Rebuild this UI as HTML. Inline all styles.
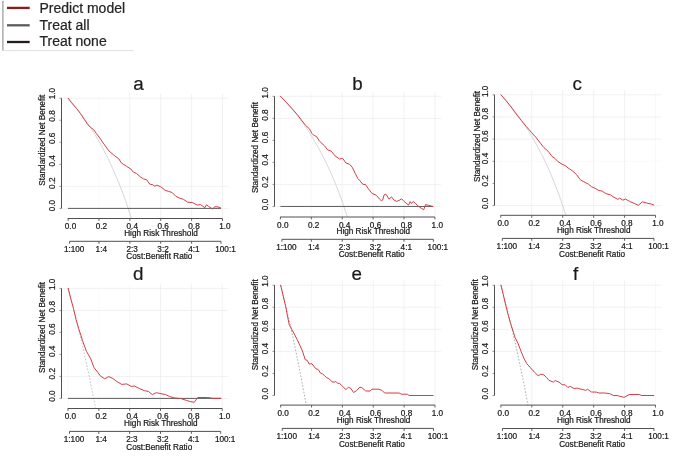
<!DOCTYPE html>
<html><head><meta charset="utf-8"><title>Decision curves</title>
<style>
html,body{margin:0;padding:0;background:#fff;}
body{width:685px;height:468px;overflow:hidden;}
svg{display:block;font-family:"Liberation Sans",sans-serif;filter:blur(0.3px);}
text{stroke:#222;stroke-width:0.22px;}
</style></head><body>
<svg width="685" height="468" viewBox="0 0 685 468">
<rect width="685" height="468" fill="#ffffff"/>
<g opacity="0.999">
<g id="legend">
<line x1="2.9" y1="0.8" x2="2.9" y2="50.7" stroke="#989898" stroke-width="1.2"/>
<line x1="2.9" y1="50.6" x2="133.5" y2="50.6" stroke="#dddddd" stroke-width="0.9"/>
<line x1="7" y1="7.9" x2="29.7" y2="7.9" stroke="#8e1a1d" stroke-width="2.3"/>
<line x1="7" y1="25.3" x2="29.7" y2="25.3" stroke="#5c5c5c" stroke-width="2.3"/>
<line x1="7" y1="42" x2="29.7" y2="42" stroke="#261a1a" stroke-width="2.3"/>
<text x="39.5" y="13.2" font-size="14" fill="#262626">Predict model</text>
<text x="39.5" y="29.9" font-size="14" fill="#262626">Treat all</text>
<text x="39.5" y="46.4" font-size="14" fill="#262626">Treat none</text>
</g>
<g id="pa">
<line x1="68.1" y1="93.57" x2="68.1" y2="218.5" stroke="#ebebeb" stroke-width="0.7" opacity="0.3"/>
<line x1="61.5" y1="208.4" x2="228.68" y2="208.4" stroke="#ebebeb" stroke-width="0.7" opacity="1"/>
<line x1="98.98" y1="93.57" x2="98.98" y2="218.5" stroke="#ebebeb" stroke-width="0.7" opacity="0.3"/>
<line x1="61.5" y1="186.36" x2="228.68" y2="186.36" stroke="#ebebeb" stroke-width="0.7" opacity="1"/>
<line x1="129.86" y1="93.57" x2="129.86" y2="218.5" stroke="#ebebeb" stroke-width="0.7" opacity="1"/>
<line x1="160.74" y1="93.57" x2="160.74" y2="218.5" stroke="#ebebeb" stroke-width="0.7" opacity="1"/>
<line x1="191.62" y1="93.57" x2="191.62" y2="218.5" stroke="#ebebeb" stroke-width="0.7" opacity="1"/>
<line x1="222.5" y1="93.57" x2="222.5" y2="218.5" stroke="#ebebeb" stroke-width="0.7" opacity="1"/>
<line x1="61.5" y1="98.2" x2="228.68" y2="98.2" stroke="#ebebeb" stroke-width="0.7" opacity="1"/>
<path d="M68.1 98.2 L68.49 98.64 L68.88 99.07 L69.26 99.51 L69.65 99.96 L70.04 100.4 L70.43 100.85 L70.81 101.3 L71.2 101.75 L71.59 102.2 L71.98 102.66 L72.36 103.12 L72.75 103.58 L73.14 104.04 L73.53 104.51 L73.91 104.97 L74.3 105.44 L74.69 105.92 L75.08 106.39 L75.46 106.87 L75.85 107.35 L76.24 107.83 L76.63 108.32 L77.02 108.81 L77.4 109.3 L77.79 109.79 L78.18 110.29 L78.57 110.79 L78.95 111.29 L79.34 111.79 L79.73 112.3 L80.12 112.81 L80.5 113.32 L80.89 113.83 L81.28 114.35 L81.67 114.87 L82.05 115.4 L82.44 115.92 L82.83 116.45 L83.22 116.99 L83.6 117.52 L83.99 118.06 L84.38 118.6 L84.77 119.15 L85.16 119.69 L85.54 120.24 L85.93 120.8 L86.32 121.36 L86.71 121.92 L87.09 122.48 L87.48 123.05 L87.87 123.62 L88.26 124.19 L88.64 124.77 L89.03 125.34 L89.42 125.93 L89.81 126.51 L90.19 127.1 L90.58 127.7 L90.97 128.3 L91.36 128.9 L91.74 129.5 L92.13 130.11 L92.52 130.72 L92.91 131.33 L93.29 131.95 L93.68 132.58 L94.07 133.2 L94.46 133.83 L94.85 134.46 L95.23 135.1 L95.62 135.74 L96.01 136.39 L96.4 137.04 L96.78 137.69 L97.17 138.35 L97.56 139.01 L97.95 139.68 L98.33 140.35 L98.72 141.02 L99.11 141.7 L99.5 142.38 L99.88 143.07 L100.27 143.76 L100.66 144.46 L101.05 145.16 L101.43 145.86 L101.82 146.57 L102.21 147.28 L102.6 148 L102.99 148.72 L103.37 149.45 L103.76 150.18 L104.15 150.92 L104.54 151.66 L104.92 152.41 L105.31 153.16 L105.7 153.92 L106.09 154.68 L106.47 155.45 L106.86 156.22 L107.25 157 L107.64 157.78 L108.02 158.57 L108.41 159.36 L108.8 160.16 L109.19 160.96 L109.57 161.77 L109.96 162.59 L110.35 163.41 L110.74 164.23 L111.13 165.07 L111.51 165.9 L111.9 166.75 L112.29 167.6 L112.68 168.45 L113.06 169.32 L113.45 170.18 L113.84 171.06 L114.23 171.94 L114.61 172.83 L115 173.72 L115.39 174.62 L115.78 175.52 L116.16 176.44 L116.55 177.36 L116.94 178.28 L117.33 179.22 L117.71 180.16 L118.1 181.1 L118.49 182.06 L118.88 183.02 L119.27 183.99 L119.65 184.96 L120.04 185.95 L120.43 186.94 L120.82 187.93 L121.2 188.94 L121.59 189.95 L121.98 190.97 L122.37 192 L122.75 193.04 L123.14 194.09 L123.53 195.14 L123.92 196.2 L124.3 197.27 L124.69 198.35 L125.08 199.44 L125.47 200.53 L125.85 201.64 L126.24 202.75 L126.63 203.87 L127.02 205.01 L127.41 206.15 L127.79 207.3 L128.18 208.46 L128.57 209.63 L128.96 210.8 L129.34 211.99 L129.73 213.19 L130.12 214.4 L130.51 215.62 L130.89 216.85 L131.28 218.09 L131.41 218.5" fill="none" stroke="#c2c2c2" stroke-width="0.7"/>
<line x1="68.1" y1="208.4" x2="220.96" y2="208.4" stroke="#4a4a4a" stroke-width="0.9"/>
<path d="M68.16 98.2 L71.57 102.8 L76.6 108.5 L80.4 113.5 L84.2 119.2 L88 124.9 L91.1 127.8 L93.6 129.6 L96.2 133.3 L99.9 138.1 L103.8 143.9 L108.8 150.8 L113.9 155.2 L118.9 159 L121.4 163 L126.5 166.3 L130.9 169.1 L133.4 172.2 L136.6 173.5 L140.4 176.9 L143.5 178.9 L146.7 179.8 L149.8 184.2 L152.5 184.6 L154.8 186.2 L156.9 185.2 L160.7 186.7 L165.1 190.3 L168.3 191.3 L172.1 192.5 L175.9 196.3 L179.6 198.2 L183.4 199.3 L187.8 202.2 L192.2 202.5 L197.3 205.1 L200.4 204.5 L204.9 207.7 L206.5 204.8 L208.6 206.4 L212.4 208.9 L214.9 206.7 L218.1 206.9 L220.6 207.9" fill="none" stroke="#d43c44" stroke-width="1.0" stroke-linejoin="round" stroke-linecap="round"/>
<line x1="61.5" y1="208.4" x2="61.5" y2="98.2" stroke="#505050" stroke-width="1"/>
<line x1="59.5" y1="208.4" x2="61.5" y2="208.4" stroke="#505050" stroke-width="0.6"/>
<text transform="translate(55.45 205.6) rotate(-90)" text-anchor="middle" font-size="8.2" fill="#141414">0.0</text>
<line x1="59.5" y1="186.36" x2="61.5" y2="186.36" stroke="#505050" stroke-width="0.6"/>
<text transform="translate(55.45 183.2) rotate(-90)" text-anchor="middle" font-size="8.2" fill="#141414">0.2</text>
<line x1="59.5" y1="164.32" x2="61.5" y2="164.32" stroke="#505050" stroke-width="0.6"/>
<text transform="translate(55.45 160.8) rotate(-90)" text-anchor="middle" font-size="8.2" fill="#141414">0.4</text>
<line x1="59.5" y1="142.28" x2="61.5" y2="142.28" stroke="#505050" stroke-width="0.6"/>
<text transform="translate(55.45 138.4) rotate(-90)" text-anchor="middle" font-size="8.2" fill="#141414">0.6</text>
<line x1="59.5" y1="120.24" x2="61.5" y2="120.24" stroke="#505050" stroke-width="0.6"/>
<text transform="translate(55.45 116) rotate(-90)" text-anchor="middle" font-size="8.2" fill="#141414">0.8</text>
<line x1="59.5" y1="98.2" x2="61.5" y2="98.2" stroke="#505050" stroke-width="0.6"/>
<text transform="translate(55.45 93.6) rotate(-90)" text-anchor="middle" font-size="8.2" fill="#141414">1.0</text>
<text transform="translate(44.9 140.25) rotate(-90)" text-anchor="middle" font-size="8.2" fill="#141414">Standardized Net Benefit</text>
<line x1="67.8" y1="218.5" x2="222.5" y2="218.5" stroke="#505050" stroke-width="1"/>
<line x1="68.1" y1="218.5" x2="68.1" y2="220.9" stroke="#505050" stroke-width="0.9"/>
<text x="70.5" y="229.25" text-anchor="middle" font-size="8.2" fill="#141414">0.0</text>
<line x1="98.98" y1="218.5" x2="98.98" y2="220.9" stroke="#505050" stroke-width="0.9"/>
<text x="101.38" y="229.25" text-anchor="middle" font-size="8.2" fill="#141414">0.2</text>
<line x1="129.86" y1="218.5" x2="129.86" y2="220.9" stroke="#505050" stroke-width="0.9"/>
<text x="132.26" y="229.25" text-anchor="middle" font-size="8.2" fill="#141414">0.4</text>
<line x1="160.74" y1="218.5" x2="160.74" y2="220.9" stroke="#505050" stroke-width="0.9"/>
<text x="163.14" y="229.25" text-anchor="middle" font-size="8.2" fill="#141414">0.6</text>
<line x1="191.62" y1="218.5" x2="191.62" y2="220.9" stroke="#505050" stroke-width="0.9"/>
<text x="194.02" y="229.25" text-anchor="middle" font-size="8.2" fill="#141414">0.8</text>
<line x1="222.5" y1="218.5" x2="222.5" y2="220.9" stroke="#505050" stroke-width="0.9"/>
<text x="224.9" y="229.25" text-anchor="middle" font-size="8.2" fill="#141414">1.0</text>
<text x="124.2" y="235.95" font-size="8.2" fill="#141414">High Risk Threshold</text>
<line x1="69.63" y1="241.3" x2="220.97" y2="241.3" stroke="#505050" stroke-width="1"/>
<line x1="69.63" y1="241.3" x2="69.63" y2="243.7" stroke="#505050" stroke-width="0.95"/>
<text x="74.13" y="251.65" text-anchor="middle" font-size="8.2" fill="#141414">1:100</text>
<line x1="98.98" y1="241.3" x2="98.98" y2="243.7" stroke="#505050" stroke-width="0.95"/>
<text x="101.28" y="251.65" text-anchor="middle" font-size="8.2" fill="#141414">1:4</text>
<line x1="129.86" y1="241.3" x2="129.86" y2="243.7" stroke="#505050" stroke-width="0.95"/>
<text x="132.16" y="251.65" text-anchor="middle" font-size="8.2" fill="#141414">2:3</text>
<line x1="160.74" y1="241.3" x2="160.74" y2="243.7" stroke="#505050" stroke-width="0.95"/>
<text x="163.04" y="251.65" text-anchor="middle" font-size="8.2" fill="#141414">3:2</text>
<line x1="191.62" y1="241.3" x2="191.62" y2="243.7" stroke="#505050" stroke-width="0.95"/>
<text x="193.92" y="251.65" text-anchor="middle" font-size="8.2" fill="#141414">4:1</text>
<line x1="220.97" y1="241.3" x2="220.97" y2="243.7" stroke="#505050" stroke-width="0.95"/>
<text x="225.47" y="251.65" text-anchor="middle" font-size="8.2" fill="#141414">100:1</text>
<text x="126.35" y="259.45" font-size="8.2" fill="#141414">Cost:Benefit Ratio</text>
<text x="138.5" y="89.8" text-anchor="middle" font-size="18.8" fill="#1a1a1a" stroke="none">a</text>
</g>
<g id="pb">
<line x1="280.4" y1="91.67" x2="280.4" y2="217" stroke="#ebebeb" stroke-width="0.7" opacity="0.3"/>
<line x1="274.5" y1="206.45" x2="441.08" y2="206.45" stroke="#ebebeb" stroke-width="0.7" opacity="1"/>
<line x1="311.3" y1="91.67" x2="311.3" y2="217" stroke="#ebebeb" stroke-width="0.7" opacity="0.5"/>
<line x1="274.5" y1="184.42" x2="441.08" y2="184.42" stroke="#ebebeb" stroke-width="0.7" opacity="1"/>
<line x1="342.2" y1="91.67" x2="342.2" y2="217" stroke="#ebebeb" stroke-width="0.7" opacity="1"/>
<line x1="373.1" y1="91.67" x2="373.1" y2="217" stroke="#ebebeb" stroke-width="0.7" opacity="1"/>
<line x1="404" y1="91.67" x2="404" y2="217" stroke="#ebebeb" stroke-width="0.7" opacity="1"/>
<line x1="274.5" y1="118.33" x2="441.08" y2="118.33" stroke="#ebebeb" stroke-width="0.7" opacity="1"/>
<line x1="434.9" y1="91.67" x2="434.9" y2="217" stroke="#ebebeb" stroke-width="0.7" opacity="1"/>
<line x1="274.5" y1="96.3" x2="441.08" y2="96.3" stroke="#ebebeb" stroke-width="0.7" opacity="1"/>
<path d="M280.4 96.3 L280.79 96.7 L281.18 97.1 L281.56 97.5 L281.95 97.9 L282.34 98.31 L282.73 98.71 L283.12 99.12 L283.5 99.54 L283.89 99.95 L284.28 100.36 L284.67 100.78 L285.05 101.2 L285.44 101.63 L285.83 102.05 L286.22 102.48 L286.61 102.91 L286.99 103.34 L287.38 103.77 L287.77 104.21 L288.16 104.64 L288.55 105.09 L288.93 105.53 L289.32 105.97 L289.71 106.42 L290.1 106.87 L290.48 107.32 L290.87 107.78 L291.26 108.24 L291.65 108.69 L292.04 109.16 L292.42 109.62 L292.81 110.09 L293.2 110.56 L293.59 111.03 L293.98 111.51 L294.36 111.98 L294.75 112.46 L295.14 112.95 L295.53 113.43 L295.91 113.92 L296.3 114.41 L296.69 114.91 L297.08 115.4 L297.47 115.9 L297.85 116.4 L298.24 116.91 L298.63 117.42 L299.02 117.93 L299.41 118.44 L299.79 118.96 L300.18 119.48 L300.57 120 L300.96 120.53 L301.34 121.06 L301.73 121.59 L302.12 122.12 L302.51 122.66 L302.9 123.2 L303.28 123.75 L303.67 124.29 L304.06 124.84 L304.45 125.4 L304.84 125.96 L305.22 126.52 L305.61 127.08 L306 127.65 L306.39 128.22 L306.77 128.79 L307.16 129.37 L307.55 129.95 L307.94 130.54 L308.33 131.13 L308.71 131.72 L309.1 132.32 L309.49 132.92 L309.88 133.52 L310.27 134.13 L310.65 134.74 L311.04 135.35 L311.43 135.97 L311.82 136.59 L312.21 137.22 L312.59 137.85 L312.98 138.48 L313.37 139.12 L313.76 139.76 L314.14 140.41 L314.53 141.06 L314.92 141.72 L315.31 142.38 L315.7 143.04 L316.08 143.71 L316.47 144.38 L316.86 145.06 L317.25 145.74 L317.64 146.42 L318.02 147.11 L318.41 147.81 L318.8 148.51 L319.19 149.21 L319.57 149.92 L319.96 150.63 L320.35 151.35 L320.74 152.08 L321.13 152.8 L321.51 153.54 L321.9 154.28 L322.29 155.02 L322.68 155.77 L323.07 156.52 L323.45 157.28 L323.84 158.05 L324.23 158.81 L324.62 159.59 L325 160.37 L325.39 161.16 L325.78 161.95 L326.17 162.75 L326.56 163.55 L326.94 164.36 L327.33 165.17 L327.72 165.99 L328.11 166.82 L328.5 167.65 L328.88 168.49 L329.27 169.33 L329.66 170.19 L330.05 171.04 L330.43 171.91 L330.82 172.78 L331.21 173.65 L331.6 174.54 L331.99 175.43 L332.37 176.32 L332.76 177.23 L333.15 178.14 L333.54 179.05 L333.93 179.98 L334.31 180.91 L334.7 181.85 L335.09 182.79 L335.48 183.75 L335.86 184.71 L336.25 185.68 L336.64 186.65 L337.03 187.63 L337.42 188.63 L337.8 189.63 L338.19 190.63 L338.58 191.65 L338.97 192.67 L339.36 193.7 L339.74 194.74 L340.13 195.79 L340.52 196.85 L340.91 197.92 L341.29 198.99 L341.68 200.08 L342.07 201.17 L342.46 202.27 L342.85 203.38 L343.23 204.51 L343.62 205.64 L344.01 206.78 L344.4 207.93 L344.79 209.09 L345.17 210.26 L345.56 211.44 L345.95 212.63 L346.34 213.83 L346.73 215.04 L347.11 216.26 L347.35 217" fill="none" stroke="#c2c2c2" stroke-width="0.7"/>
<line x1="280.4" y1="206.45" x2="433.36" y2="206.45" stroke="#4a4a4a" stroke-width="0.9"/>
<path d="M280.4 96.2 L286.1 102.1 L292.4 109 L297.4 114.7 L301.2 119.7 L305.6 125.4 L309.4 128.8 L311.9 133.4 L313.8 135.3 L316.4 136.4 L319.5 141.2 L324.4 145.7 L327.6 149.9 L331.3 151.2 L335.1 155.9 L339.5 159 L342.7 158.4 L345.9 163 L349.6 164.3 L352.2 167.2 L355.3 173.5 L357.8 178.5 L360.2 181 L362.7 184.2 L365.5 184.6 L368.7 189.2 L372 193.4 L376.4 195.3 L379.5 199.1 L381.4 200.7 L382.7 200.1 L384 195.1 L385.6 194 L387.1 195.9 L389 199.1 L391.5 196.9 L394 200.1 L396.6 201.4 L399.1 200.4 L401.6 198.8 L404.1 201.4 L408.5 205.1 L410.2 201.6 L411.4 203.5 L413.2 201.4 L415.5 203.5 L418.6 206.4 L423.7 209.8 L425.6 204.5 L428.7 205.4 L432.5 206.4" fill="none" stroke="#d43c44" stroke-width="1.0" stroke-linejoin="round" stroke-linecap="round"/>
<line x1="274.5" y1="206.45" x2="274.5" y2="96.3" stroke="#505050" stroke-width="1"/>
<line x1="272.5" y1="206.45" x2="274.5" y2="206.45" stroke="#505050" stroke-width="0.6"/>
<text transform="translate(268.45 204.5) rotate(-90)" text-anchor="middle" font-size="8.2" fill="#141414">0.0</text>
<line x1="272.5" y1="184.42" x2="274.5" y2="184.42" stroke="#505050" stroke-width="0.6"/>
<text transform="translate(268.45 182.16) rotate(-90)" text-anchor="middle" font-size="8.2" fill="#141414">0.2</text>
<line x1="272.5" y1="162.39" x2="274.5" y2="162.39" stroke="#505050" stroke-width="0.6"/>
<text transform="translate(268.45 159.82) rotate(-90)" text-anchor="middle" font-size="8.2" fill="#141414">0.4</text>
<line x1="272.5" y1="140.36" x2="274.5" y2="140.36" stroke="#505050" stroke-width="0.6"/>
<text transform="translate(268.45 137.48) rotate(-90)" text-anchor="middle" font-size="8.2" fill="#141414">0.6</text>
<line x1="272.5" y1="118.33" x2="274.5" y2="118.33" stroke="#505050" stroke-width="0.6"/>
<text transform="translate(268.45 115.14) rotate(-90)" text-anchor="middle" font-size="8.2" fill="#141414">0.8</text>
<line x1="272.5" y1="96.3" x2="274.5" y2="96.3" stroke="#505050" stroke-width="0.6"/>
<text transform="translate(268.45 92.8) rotate(-90)" text-anchor="middle" font-size="8.2" fill="#141414">1.0</text>
<text transform="translate(257.9 147.6) rotate(-90)" text-anchor="middle" font-size="8.2" fill="#141414">Standardized Net Benefit</text>
<line x1="280.1" y1="217" x2="434.9" y2="217" stroke="#505050" stroke-width="1"/>
<line x1="280.4" y1="217" x2="280.4" y2="219.4" stroke="#505050" stroke-width="0.9"/>
<text x="282.8" y="227.75" text-anchor="middle" font-size="8.2" fill="#141414">0.0</text>
<line x1="311.3" y1="217" x2="311.3" y2="219.4" stroke="#505050" stroke-width="0.9"/>
<text x="313.7" y="227.75" text-anchor="middle" font-size="8.2" fill="#141414">0.2</text>
<line x1="342.2" y1="217" x2="342.2" y2="219.4" stroke="#505050" stroke-width="0.9"/>
<text x="344.6" y="227.75" text-anchor="middle" font-size="8.2" fill="#141414">0.4</text>
<line x1="373.1" y1="217" x2="373.1" y2="219.4" stroke="#505050" stroke-width="0.9"/>
<text x="375.5" y="227.75" text-anchor="middle" font-size="8.2" fill="#141414">0.6</text>
<line x1="404" y1="217" x2="404" y2="219.4" stroke="#505050" stroke-width="0.9"/>
<text x="406.4" y="227.75" text-anchor="middle" font-size="8.2" fill="#141414">0.8</text>
<line x1="434.9" y1="217" x2="434.9" y2="219.4" stroke="#505050" stroke-width="0.9"/>
<text x="437.3" y="227.75" text-anchor="middle" font-size="8.2" fill="#141414">1.0</text>
<text x="336.5" y="234.45" font-size="8.2" fill="#141414">High Risk Threshold</text>
<line x1="281.93" y1="239.3" x2="433.37" y2="239.3" stroke="#505050" stroke-width="1"/>
<line x1="281.93" y1="239.3" x2="281.93" y2="241.7" stroke="#505050" stroke-width="0.95"/>
<text x="286.43" y="249.65" text-anchor="middle" font-size="8.2" fill="#141414">1:100</text>
<line x1="311.3" y1="239.3" x2="311.3" y2="241.7" stroke="#505050" stroke-width="0.95"/>
<text x="313.6" y="249.65" text-anchor="middle" font-size="8.2" fill="#141414">1:4</text>
<line x1="342.2" y1="239.3" x2="342.2" y2="241.7" stroke="#505050" stroke-width="0.95"/>
<text x="344.5" y="249.65" text-anchor="middle" font-size="8.2" fill="#141414">2:3</text>
<line x1="373.1" y1="239.3" x2="373.1" y2="241.7" stroke="#505050" stroke-width="0.95"/>
<text x="375.4" y="249.65" text-anchor="middle" font-size="8.2" fill="#141414">3:2</text>
<line x1="404" y1="239.3" x2="404" y2="241.7" stroke="#505050" stroke-width="0.95"/>
<text x="406.3" y="249.65" text-anchor="middle" font-size="8.2" fill="#141414">4:1</text>
<line x1="433.37" y1="239.3" x2="433.37" y2="241.7" stroke="#505050" stroke-width="0.95"/>
<text x="437.87" y="249.65" text-anchor="middle" font-size="8.2" fill="#141414">100:1</text>
<text x="338.65" y="257.45" font-size="8.2" fill="#141414">Cost:Benefit Ratio</text>
<text x="357.4" y="89.6" text-anchor="middle" font-size="18.8" fill="#1a1a1a" stroke="none">b</text>
</g>
<g id="pc">
<line x1="500.8" y1="90.15" x2="500.8" y2="215.3" stroke="#ebebeb" stroke-width="0.7" opacity="0.2"/>
<line x1="494.5" y1="205.6" x2="661.69" y2="205.6" stroke="#ebebeb" stroke-width="0.7" opacity="1"/>
<line x1="531.74" y1="90.15" x2="531.74" y2="215.3" stroke="#ebebeb" stroke-width="0.7" opacity="1"/>
<line x1="562.68" y1="90.15" x2="562.68" y2="215.3" stroke="#ebebeb" stroke-width="0.7" opacity="1"/>
<line x1="494.5" y1="161.28" x2="661.69" y2="161.28" stroke="#ebebeb" stroke-width="0.7" opacity="0.4"/>
<line x1="593.62" y1="90.15" x2="593.62" y2="215.3" stroke="#ebebeb" stroke-width="0.7" opacity="1"/>
<line x1="494.5" y1="139.12" x2="661.69" y2="139.12" stroke="#ebebeb" stroke-width="0.7" opacity="1"/>
<line x1="624.56" y1="90.15" x2="624.56" y2="215.3" stroke="#ebebeb" stroke-width="0.7" opacity="1"/>
<line x1="494.5" y1="116.96" x2="661.69" y2="116.96" stroke="#ebebeb" stroke-width="0.7" opacity="1"/>
<line x1="655.5" y1="90.15" x2="655.5" y2="215.3" stroke="#ebebeb" stroke-width="0.7" opacity="0.4"/>
<line x1="494.5" y1="94.8" x2="661.69" y2="94.8" stroke="#ebebeb" stroke-width="0.7" opacity="1"/>
<path d="M500.8 94.8 L501.19 95.22 L501.58 95.64 L501.97 96.06 L502.35 96.49 L502.74 96.91 L503.13 97.34 L503.52 97.77 L503.91 98.21 L504.3 98.64 L504.68 99.08 L505.07 99.52 L505.46 99.96 L505.85 100.41 L506.24 100.85 L506.63 101.3 L507.01 101.76 L507.4 102.21 L507.79 102.67 L508.18 103.12 L508.57 103.59 L508.96 104.05 L509.34 104.52 L509.73 104.98 L510.12 105.46 L510.51 105.93 L510.9 106.41 L511.29 106.88 L511.67 107.37 L512.06 107.85 L512.45 108.34 L512.84 108.83 L513.23 109.32 L513.62 109.81 L514 110.31 L514.39 110.81 L514.78 111.31 L515.17 111.82 L515.56 112.33 L515.95 112.84 L516.33 113.35 L516.72 113.87 L517.11 114.39 L517.5 114.91 L517.89 115.44 L518.28 115.97 L518.66 116.5 L519.05 117.03 L519.44 117.57 L519.83 118.11 L520.22 118.66 L520.61 119.2 L521 119.75 L521.38 120.31 L521.77 120.86 L522.16 121.42 L522.55 121.99 L522.94 122.55 L523.33 123.12 L523.71 123.7 L524.1 124.27 L524.49 124.85 L524.88 125.44 L525.27 126.02 L525.66 126.61 L526.04 127.21 L526.43 127.81 L526.82 128.41 L527.21 129.01 L527.6 129.62 L527.99 130.23 L528.37 130.85 L528.76 131.47 L529.15 132.09 L529.54 132.72 L529.93 133.35 L530.32 133.99 L530.7 134.63 L531.09 135.27 L531.48 135.92 L531.87 136.57 L532.26 137.22 L532.65 137.88 L533.03 138.55 L533.42 139.21 L533.81 139.89 L534.2 140.56 L534.59 141.24 L534.98 141.93 L535.36 142.62 L535.75 143.31 L536.14 144.01 L536.53 144.71 L536.92 145.42 L537.31 146.13 L537.69 146.85 L538.08 147.57 L538.47 148.3 L538.86 149.03 L539.25 149.77 L539.64 150.51 L540.03 151.26 L540.41 152.01 L540.8 152.76 L541.19 153.53 L541.58 154.29 L541.97 155.06 L542.36 155.84 L542.74 156.62 L543.13 157.41 L543.52 158.21 L543.91 159 L544.3 159.81 L544.69 160.62 L545.07 161.44 L545.46 162.26 L545.85 163.09 L546.24 163.92 L546.63 164.76 L547.02 165.6 L547.4 166.46 L547.79 167.31 L548.18 168.18 L548.57 169.05 L548.96 169.92 L549.35 170.81 L549.73 171.7 L550.12 172.59 L550.51 173.49 L550.9 174.4 L551.29 175.32 L551.68 176.24 L552.06 177.17 L552.45 178.11 L552.84 179.05 L553.23 180 L553.62 180.96 L554.01 181.93 L554.39 182.9 L554.78 183.88 L555.17 184.87 L555.56 185.87 L555.95 186.87 L556.34 187.88 L556.73 188.9 L557.11 189.93 L557.5 190.96 L557.89 192.01 L558.28 193.06 L558.67 194.12 L559.06 195.19 L559.44 196.27 L559.83 197.35 L560.22 198.45 L560.61 199.55 L561 200.67 L561.39 201.79 L561.77 202.92 L562.16 204.06 L562.55 205.21 L562.94 206.37 L563.33 207.55 L563.72 208.73 L564.1 209.92 L564.49 211.12 L564.88 212.33 L565.27 213.55 L565.66 214.78 L565.82 215.3" fill="none" stroke="#c2c2c2" stroke-width="0.7"/>
<path d="M501 94.8 L506.1 100.7 L511.1 107 L516.2 114 L521.2 120.3 L526.3 126.6 L531.3 132.2 L536.4 137.9 L540.4 143.2 L543.8 147.5 L548.2 151.3 L552 156.4 L555.1 158.5 L557.7 161.4 L562.1 164.2 L565.2 165.6 L569 168.6 L572.8 171.1 L576.6 174.7 L580.2 179.7 L583.9 181.8 L588.3 184.1 L591.5 186.7 L595.1 188.3 L598.9 190.5 L602.1 191 L605.9 193.6 L610.3 194.8 L614 197.3 L617.8 199.4 L619.7 198.1 L622.9 200.2 L625.4 199 L629.8 201.5 L634.2 203.4 L638.3 205.3 L642.4 201.8 L646.8 203.1 L651.2 204 L653.8 205" fill="none" stroke="#d43c44" stroke-width="1.0" stroke-linejoin="round" stroke-linecap="round"/>
<line x1="494.5" y1="205.6" x2="494.5" y2="94.8" stroke="#505050" stroke-width="1"/>
<line x1="492.5" y1="205.6" x2="494.5" y2="205.6" stroke="#505050" stroke-width="0.6"/>
<text transform="translate(488.45 203.3) rotate(-90)" text-anchor="middle" font-size="8.2" fill="#141414">0.0</text>
<line x1="492.5" y1="183.44" x2="494.5" y2="183.44" stroke="#505050" stroke-width="0.6"/>
<text transform="translate(488.45 180.9) rotate(-90)" text-anchor="middle" font-size="8.2" fill="#141414">0.2</text>
<line x1="492.5" y1="161.28" x2="494.5" y2="161.28" stroke="#505050" stroke-width="0.6"/>
<text transform="translate(488.45 158.5) rotate(-90)" text-anchor="middle" font-size="8.2" fill="#141414">0.4</text>
<line x1="492.5" y1="139.12" x2="494.5" y2="139.12" stroke="#505050" stroke-width="0.6"/>
<text transform="translate(488.45 136.1) rotate(-90)" text-anchor="middle" font-size="8.2" fill="#141414">0.6</text>
<line x1="492.5" y1="116.96" x2="494.5" y2="116.96" stroke="#505050" stroke-width="0.6"/>
<text transform="translate(488.45 113.7) rotate(-90)" text-anchor="middle" font-size="8.2" fill="#141414">0.8</text>
<line x1="492.5" y1="94.8" x2="494.5" y2="94.8" stroke="#505050" stroke-width="0.6"/>
<text transform="translate(488.45 91.3) rotate(-90)" text-anchor="middle" font-size="8.2" fill="#141414">1.0</text>
<text transform="translate(480 136.4) rotate(-90)" text-anchor="middle" font-size="8.2" fill="#141414">Standardized Net Benefit</text>
<line x1="500.5" y1="215.3" x2="655.5" y2="215.3" stroke="#505050" stroke-width="1"/>
<line x1="500.8" y1="215.3" x2="500.8" y2="217.7" stroke="#505050" stroke-width="0.9"/>
<text x="503.2" y="226.05" text-anchor="middle" font-size="8.2" fill="#141414">0.0</text>
<line x1="531.74" y1="215.3" x2="531.74" y2="217.7" stroke="#505050" stroke-width="0.9"/>
<text x="534.14" y="226.05" text-anchor="middle" font-size="8.2" fill="#141414">0.2</text>
<line x1="562.68" y1="215.3" x2="562.68" y2="217.7" stroke="#505050" stroke-width="0.9"/>
<text x="565.08" y="226.05" text-anchor="middle" font-size="8.2" fill="#141414">0.4</text>
<line x1="593.62" y1="215.3" x2="593.62" y2="217.7" stroke="#505050" stroke-width="0.9"/>
<text x="596.02" y="226.05" text-anchor="middle" font-size="8.2" fill="#141414">0.6</text>
<line x1="624.56" y1="215.3" x2="624.56" y2="217.7" stroke="#505050" stroke-width="0.9"/>
<text x="626.96" y="226.05" text-anchor="middle" font-size="8.2" fill="#141414">0.8</text>
<line x1="655.5" y1="215.3" x2="655.5" y2="217.7" stroke="#505050" stroke-width="0.9"/>
<text x="657.9" y="226.05" text-anchor="middle" font-size="8.2" fill="#141414">1.0</text>
<text x="556.9" y="232.75" font-size="8.2" fill="#141414">High Risk Threshold</text>
<line x1="502.33" y1="238.4" x2="653.97" y2="238.4" stroke="#505050" stroke-width="1"/>
<line x1="502.33" y1="238.4" x2="502.33" y2="240.8" stroke="#505050" stroke-width="0.95"/>
<text x="506.83" y="248.75" text-anchor="middle" font-size="8.2" fill="#141414">1:100</text>
<line x1="531.74" y1="238.4" x2="531.74" y2="240.8" stroke="#505050" stroke-width="0.95"/>
<text x="534.04" y="248.75" text-anchor="middle" font-size="8.2" fill="#141414">1:4</text>
<line x1="562.68" y1="238.4" x2="562.68" y2="240.8" stroke="#505050" stroke-width="0.95"/>
<text x="564.98" y="248.75" text-anchor="middle" font-size="8.2" fill="#141414">2:3</text>
<line x1="593.62" y1="238.4" x2="593.62" y2="240.8" stroke="#505050" stroke-width="0.95"/>
<text x="595.92" y="248.75" text-anchor="middle" font-size="8.2" fill="#141414">3:2</text>
<line x1="624.56" y1="238.4" x2="624.56" y2="240.8" stroke="#505050" stroke-width="0.95"/>
<text x="626.86" y="248.75" text-anchor="middle" font-size="8.2" fill="#141414">4:1</text>
<line x1="653.97" y1="238.4" x2="653.97" y2="240.8" stroke="#505050" stroke-width="0.95"/>
<text x="658.47" y="248.75" text-anchor="middle" font-size="8.2" fill="#141414">100:1</text>
<text x="559.05" y="256.55" font-size="8.2" fill="#141414">Cost:Benefit Ratio</text>
<text x="577.3" y="89.7" text-anchor="middle" font-size="18.8" fill="#1a1a1a" stroke="none">c</text>
</g>
<g id="pd">
<line x1="68" y1="283.78" x2="68" y2="408.5" stroke="#ebebeb" stroke-width="0.7" opacity="0.3"/>
<line x1="61.5" y1="398.4" x2="228.37" y2="398.4" stroke="#ebebeb" stroke-width="0.7" opacity="1"/>
<line x1="98.84" y1="283.78" x2="98.84" y2="408.5" stroke="#ebebeb" stroke-width="0.7" opacity="0.3"/>
<line x1="61.5" y1="376.4" x2="228.37" y2="376.4" stroke="#ebebeb" stroke-width="0.7" opacity="1"/>
<line x1="129.68" y1="283.78" x2="129.68" y2="408.5" stroke="#ebebeb" stroke-width="0.7" opacity="0.5"/>
<line x1="160.52" y1="283.78" x2="160.52" y2="408.5" stroke="#ebebeb" stroke-width="0.7" opacity="1"/>
<line x1="191.36" y1="283.78" x2="191.36" y2="408.5" stroke="#ebebeb" stroke-width="0.7" opacity="1"/>
<line x1="61.5" y1="310.4" x2="228.37" y2="310.4" stroke="#ebebeb" stroke-width="0.7" opacity="1"/>
<line x1="222.2" y1="283.78" x2="222.2" y2="408.5" stroke="#ebebeb" stroke-width="0.7" opacity="1"/>
<line x1="61.5" y1="288.4" x2="228.37" y2="288.4" stroke="#ebebeb" stroke-width="0.7" opacity="1"/>
<path d="M68 288.4 L68.39 289.79 L68.77 291.19 L69.16 292.59 L69.55 294.01 L69.94 295.43 L70.32 296.85 L70.71 298.29 L71.1 299.73 L71.48 301.18 L71.87 302.63 L72.26 304.09 L72.65 305.57 L73.03 307.04 L73.42 308.53 L73.81 310.03 L74.19 311.53 L74.58 313.04 L74.97 314.56 L75.36 316.08 L75.74 317.62 L76.13 319.16 L76.52 320.71 L76.9 322.27 L77.29 323.83 L77.68 325.41 L78.06 326.99 L78.45 328.58 L78.84 330.18 L79.23 331.79 L79.61 333.41 L80 335.04 L80.39 336.68 L80.77 338.32 L81.16 339.97 L81.55 341.64 L81.94 343.31 L82.32 344.99 L82.71 346.68 L83.1 348.38 L83.48 350.09 L83.87 351.81 L84.26 353.54 L84.65 355.28 L85.03 357.03 L85.42 358.78 L85.81 360.55 L86.19 362.33 L86.58 364.12 L86.97 365.92 L87.36 367.73 L87.74 369.55 L88.13 371.38 L88.52 373.22 L88.9 375.07 L89.29 376.93 L89.68 378.8 L90.07 380.69 L90.45 382.58 L90.84 384.49 L91.23 386.41 L91.61 388.34 L92 390.28 L92.39 392.23 L92.78 394.19 L93.16 396.17 L93.55 398.15 L93.94 400.15 L94.32 402.16 L94.71 404.19 L95.1 406.22 L95.49 408.27 L95.53 408.5" fill="none" stroke="#a0a0a0" stroke-width="0.65" stroke-dasharray="1.6 1.7"/>
<line x1="68" y1="398.4" x2="220.66" y2="398.4" stroke="#4a4a4a" stroke-width="0.9"/>
<path d="M68.2 288.4 L70.9 299.1 L73.5 308.6 L76 319.3 L78.5 328.1 L81 335.7 L82.4 340.3 L86.4 351.3 L90.8 358.9 L94 367.7 L97.7 372.2 L100.3 375.9 L104.7 378.8 L108.8 376.6 L112.9 378.5 L116.7 381.4 L121.7 384.4 L126.7 383.9 L131.2 386.4 L134.3 386 L139.4 388.5 L144.4 390.7 L148.3 391.4 L152.4 394.6 L156.3 392.7 L159.9 393.5 L165.5 394.5 L169.3 396.4 L174.4 397.9 L180.7 398.5 L186.4 400.4 L190.8 401.7 L194.3 402.3 L197.7 397.5 L207.8 397.5 L212.8 398.3 L221 398.3" fill="none" stroke="#d43c44" stroke-width="1.0" stroke-linejoin="round" stroke-linecap="round"/>
<line x1="61.5" y1="398.4" x2="61.5" y2="288.4" stroke="#505050" stroke-width="1"/>
<line x1="59.5" y1="398.4" x2="61.5" y2="398.4" stroke="#505050" stroke-width="0.6"/>
<text transform="translate(55.45 396.1) rotate(-90)" text-anchor="middle" font-size="8.2" fill="#141414">0.0</text>
<line x1="59.5" y1="376.4" x2="61.5" y2="376.4" stroke="#505050" stroke-width="0.6"/>
<text transform="translate(55.45 373.76) rotate(-90)" text-anchor="middle" font-size="8.2" fill="#141414">0.2</text>
<line x1="59.5" y1="354.4" x2="61.5" y2="354.4" stroke="#505050" stroke-width="0.6"/>
<text transform="translate(55.45 351.42) rotate(-90)" text-anchor="middle" font-size="8.2" fill="#141414">0.4</text>
<line x1="59.5" y1="332.4" x2="61.5" y2="332.4" stroke="#505050" stroke-width="0.6"/>
<text transform="translate(55.45 329.08) rotate(-90)" text-anchor="middle" font-size="8.2" fill="#141414">0.6</text>
<line x1="59.5" y1="310.4" x2="61.5" y2="310.4" stroke="#505050" stroke-width="0.6"/>
<text transform="translate(55.45 306.74) rotate(-90)" text-anchor="middle" font-size="8.2" fill="#141414">0.8</text>
<line x1="59.5" y1="288.4" x2="61.5" y2="288.4" stroke="#505050" stroke-width="0.6"/>
<text transform="translate(55.45 284.4) rotate(-90)" text-anchor="middle" font-size="8.2" fill="#141414">1.0</text>
<text transform="translate(44.9 327.45) rotate(-90)" text-anchor="middle" font-size="8.2" fill="#141414">Standardized Net Benefit</text>
<line x1="67.7" y1="408.5" x2="222.2" y2="408.5" stroke="#505050" stroke-width="1"/>
<line x1="68" y1="408.5" x2="68" y2="410.9" stroke="#505050" stroke-width="0.9"/>
<text x="70.4" y="419.25" text-anchor="middle" font-size="8.2" fill="#141414">0.0</text>
<line x1="98.84" y1="408.5" x2="98.84" y2="410.9" stroke="#505050" stroke-width="0.9"/>
<text x="101.24" y="419.25" text-anchor="middle" font-size="8.2" fill="#141414">0.2</text>
<line x1="129.68" y1="408.5" x2="129.68" y2="410.9" stroke="#505050" stroke-width="0.9"/>
<text x="132.08" y="419.25" text-anchor="middle" font-size="8.2" fill="#141414">0.4</text>
<line x1="160.52" y1="408.5" x2="160.52" y2="410.9" stroke="#505050" stroke-width="0.9"/>
<text x="162.92" y="419.25" text-anchor="middle" font-size="8.2" fill="#141414">0.6</text>
<line x1="191.36" y1="408.5" x2="191.36" y2="410.9" stroke="#505050" stroke-width="0.9"/>
<text x="193.76" y="419.25" text-anchor="middle" font-size="8.2" fill="#141414">0.8</text>
<line x1="222.2" y1="408.5" x2="222.2" y2="410.9" stroke="#505050" stroke-width="0.9"/>
<text x="224.6" y="419.25" text-anchor="middle" font-size="8.2" fill="#141414">1.0</text>
<text x="124.1" y="425.95" font-size="8.2" fill="#141414">High Risk Threshold</text>
<line x1="69.53" y1="431.4" x2="220.67" y2="431.4" stroke="#505050" stroke-width="1"/>
<line x1="69.53" y1="431.4" x2="69.53" y2="433.8" stroke="#505050" stroke-width="0.95"/>
<text x="74.03" y="441.75" text-anchor="middle" font-size="8.2" fill="#141414">1:100</text>
<line x1="98.84" y1="431.4" x2="98.84" y2="433.8" stroke="#505050" stroke-width="0.95"/>
<text x="101.14" y="441.75" text-anchor="middle" font-size="8.2" fill="#141414">1:4</text>
<line x1="129.68" y1="431.4" x2="129.68" y2="433.8" stroke="#505050" stroke-width="0.95"/>
<text x="131.98" y="441.75" text-anchor="middle" font-size="8.2" fill="#141414">2:3</text>
<line x1="160.52" y1="431.4" x2="160.52" y2="433.8" stroke="#505050" stroke-width="0.95"/>
<text x="162.82" y="441.75" text-anchor="middle" font-size="8.2" fill="#141414">3:2</text>
<line x1="191.36" y1="431.4" x2="191.36" y2="433.8" stroke="#505050" stroke-width="0.95"/>
<text x="193.66" y="441.75" text-anchor="middle" font-size="8.2" fill="#141414">4:1</text>
<line x1="220.67" y1="431.4" x2="220.67" y2="433.8" stroke="#505050" stroke-width="0.95"/>
<text x="225.17" y="441.75" text-anchor="middle" font-size="8.2" fill="#141414">100:1</text>
<text x="126.25" y="449.55" font-size="8.2" fill="#141414">Cost:Benefit Ratio</text>
<text x="138.2" y="279.9" text-anchor="middle" font-size="18.8" fill="#1a1a1a" stroke="none">d</text>
</g>
<g id="pe">
<line x1="280.7" y1="280.57" x2="280.7" y2="405.1" stroke="#ebebeb" stroke-width="0.7" opacity="0.3"/>
<line x1="311.56" y1="280.57" x2="311.56" y2="405.1" stroke="#ebebeb" stroke-width="0.7" opacity="0.6"/>
<line x1="342.42" y1="280.57" x2="342.42" y2="405.1" stroke="#ebebeb" stroke-width="0.7" opacity="1"/>
<line x1="274.5" y1="351.38" x2="441.17" y2="351.38" stroke="#ebebeb" stroke-width="0.7" opacity="1"/>
<line x1="373.28" y1="280.57" x2="373.28" y2="405.1" stroke="#ebebeb" stroke-width="0.7" opacity="1"/>
<line x1="274.5" y1="329.32" x2="441.17" y2="329.32" stroke="#ebebeb" stroke-width="0.7" opacity="1"/>
<line x1="404.14" y1="280.57" x2="404.14" y2="405.1" stroke="#ebebeb" stroke-width="0.7" opacity="1"/>
<line x1="274.5" y1="307.26" x2="441.17" y2="307.26" stroke="#ebebeb" stroke-width="0.7" opacity="1"/>
<line x1="435" y1="280.57" x2="435" y2="405.1" stroke="#ebebeb" stroke-width="0.7" opacity="1"/>
<line x1="274.5" y1="285.2" x2="441.17" y2="285.2" stroke="#ebebeb" stroke-width="0.7" opacity="1"/>
<path d="M280.7 285.2 L281.09 286.73 L281.47 288.26 L281.86 289.8 L282.25 291.35 L282.64 292.9 L283.02 294.47 L283.41 296.04 L283.8 297.62 L284.19 299.21 L284.57 300.8 L284.96 302.41 L285.35 304.02 L285.74 305.64 L286.12 307.27 L286.51 308.91 L286.9 310.56 L287.29 312.21 L287.67 313.88 L288.06 315.55 L288.45 317.23 L288.83 318.92 L289.22 320.62 L289.61 322.33 L290 324.05 L290.38 325.78 L290.77 327.51 L291.16 329.26 L291.55 331.01 L291.93 332.78 L292.32 334.55 L292.71 336.34 L293.1 338.13 L293.48 339.93 L293.87 341.75 L294.26 343.57 L294.65 345.4 L295.03 347.25 L295.42 349.1 L295.81 350.96 L296.19 352.84 L296.58 354.72 L296.97 356.62 L297.36 358.53 L297.74 360.44 L298.13 362.37 L298.52 364.31 L298.91 366.26 L299.29 368.22 L299.68 370.19 L300.07 372.18 L300.46 374.17 L300.84 376.18 L301.23 378.2 L301.62 380.23 L302.01 382.27 L302.39 384.32 L302.78 386.39 L303.17 388.46 L303.55 390.55 L303.94 392.66 L304.33 394.77 L304.72 396.9 L305.1 399.04 L305.49 401.19 L305.88 403.36 L306.19 405.1" fill="none" stroke="#8f8f8f" stroke-width="0.75" stroke-dasharray="1.6 1.7"/>
<path d="M280.7 285.2 L282.9 294.9 L285.5 305.6 L287.3 315.1 L289.2 324.5 L291.8 329.6 L294.3 334 L297.2 339.6 L299.2 343.9 L302.4 350.9 L305.2 359.7 L307.2 360.3 L309.3 364.1 L311.9 363.7 L315.6 368.5 L318.2 369.5 L320.7 373.3 L322.6 373.8 L326.4 377.6 L328.9 378.6 L332 381.8 L334.5 382.1 L335.8 381.4 L337.7 383.4 L339.6 383.4 L342.7 386.4 L345.9 389.7 L348.4 387.2 L350.9 388.5 L353.5 392.5 L356.6 390.6 L359.8 387.1 L361.8 387.6 L365.6 390.9 L370.1 391.1 L372 389.2 L378.9 389.2 L382.1 390.5 L384.6 393 L399.1 393 L401.6 394.2 L407.3 394.2 L409.2 395.5 L433.1 395.5" fill="none" stroke="#d43c44" stroke-width="1.0" stroke-linejoin="round" stroke-linecap="round"/>
<line x1="274.5" y1="395.5" x2="274.5" y2="285.2" stroke="#505050" stroke-width="1"/>
<line x1="272.5" y1="395.5" x2="274.5" y2="395.5" stroke="#505050" stroke-width="0.6"/>
<text transform="translate(268.35 393.7) rotate(-90)" text-anchor="middle" font-size="8.2" fill="#141414">0.0</text>
<line x1="272.5" y1="373.44" x2="274.5" y2="373.44" stroke="#505050" stroke-width="0.6"/>
<text transform="translate(268.35 371.18) rotate(-90)" text-anchor="middle" font-size="8.2" fill="#141414">0.2</text>
<line x1="272.5" y1="351.38" x2="274.5" y2="351.38" stroke="#505050" stroke-width="0.6"/>
<text transform="translate(268.35 348.66) rotate(-90)" text-anchor="middle" font-size="8.2" fill="#141414">0.4</text>
<line x1="272.5" y1="329.32" x2="274.5" y2="329.32" stroke="#505050" stroke-width="0.6"/>
<text transform="translate(268.35 326.14) rotate(-90)" text-anchor="middle" font-size="8.2" fill="#141414">0.6</text>
<line x1="272.5" y1="307.26" x2="274.5" y2="307.26" stroke="#505050" stroke-width="0.6"/>
<text transform="translate(268.35 303.62) rotate(-90)" text-anchor="middle" font-size="8.2" fill="#141414">0.8</text>
<line x1="272.5" y1="285.2" x2="274.5" y2="285.2" stroke="#505050" stroke-width="0.6"/>
<text transform="translate(268.35 281.1) rotate(-90)" text-anchor="middle" font-size="8.2" fill="#141414">1.0</text>
<text transform="translate(257.9 324.8) rotate(-90)" text-anchor="middle" font-size="8.2" fill="#141414">Standardized Net Benefit</text>
<line x1="280.4" y1="405.1" x2="435" y2="405.1" stroke="#505050" stroke-width="1"/>
<line x1="280.7" y1="405.1" x2="280.7" y2="407.5" stroke="#505050" stroke-width="0.9"/>
<text x="283.1" y="415.85" text-anchor="middle" font-size="8.2" fill="#141414">0.0</text>
<line x1="311.56" y1="405.1" x2="311.56" y2="407.5" stroke="#505050" stroke-width="0.9"/>
<text x="313.96" y="415.85" text-anchor="middle" font-size="8.2" fill="#141414">0.2</text>
<line x1="342.42" y1="405.1" x2="342.42" y2="407.5" stroke="#505050" stroke-width="0.9"/>
<text x="344.82" y="415.85" text-anchor="middle" font-size="8.2" fill="#141414">0.4</text>
<line x1="373.28" y1="405.1" x2="373.28" y2="407.5" stroke="#505050" stroke-width="0.9"/>
<text x="375.68" y="415.85" text-anchor="middle" font-size="8.2" fill="#141414">0.6</text>
<line x1="404.14" y1="405.1" x2="404.14" y2="407.5" stroke="#505050" stroke-width="0.9"/>
<text x="406.54" y="415.85" text-anchor="middle" font-size="8.2" fill="#141414">0.8</text>
<line x1="435" y1="405.1" x2="435" y2="407.5" stroke="#505050" stroke-width="0.9"/>
<text x="437.4" y="415.85" text-anchor="middle" font-size="8.2" fill="#141414">1.0</text>
<text x="336.8" y="422.55" font-size="8.2" fill="#141414">High Risk Threshold</text>
<line x1="282.23" y1="428.4" x2="433.47" y2="428.4" stroke="#505050" stroke-width="1"/>
<line x1="282.23" y1="428.4" x2="282.23" y2="430.8" stroke="#505050" stroke-width="0.95"/>
<text x="286.73" y="438.75" text-anchor="middle" font-size="8.2" fill="#141414">1:100</text>
<line x1="311.56" y1="428.4" x2="311.56" y2="430.8" stroke="#505050" stroke-width="0.95"/>
<text x="313.86" y="438.75" text-anchor="middle" font-size="8.2" fill="#141414">1:4</text>
<line x1="342.42" y1="428.4" x2="342.42" y2="430.8" stroke="#505050" stroke-width="0.95"/>
<text x="344.72" y="438.75" text-anchor="middle" font-size="8.2" fill="#141414">2:3</text>
<line x1="373.28" y1="428.4" x2="373.28" y2="430.8" stroke="#505050" stroke-width="0.95"/>
<text x="375.58" y="438.75" text-anchor="middle" font-size="8.2" fill="#141414">3:2</text>
<line x1="404.14" y1="428.4" x2="404.14" y2="430.8" stroke="#505050" stroke-width="0.95"/>
<text x="406.44" y="438.75" text-anchor="middle" font-size="8.2" fill="#141414">4:1</text>
<line x1="433.47" y1="428.4" x2="433.47" y2="430.8" stroke="#505050" stroke-width="0.95"/>
<text x="437.97" y="438.75" text-anchor="middle" font-size="8.2" fill="#141414">100:1</text>
<text x="338.95" y="446.55" font-size="8.2" fill="#141414">Cost:Benefit Ratio</text>
<text x="356.8" y="279.8" text-anchor="middle" font-size="18.8" fill="#1a1a1a" stroke="none">e</text>
</g>
<g id="pf">
<line x1="500.9" y1="280.57" x2="500.9" y2="405.1" stroke="#ebebeb" stroke-width="0.7" opacity="0.2"/>
<line x1="531.82" y1="280.57" x2="531.82" y2="405.1" stroke="#ebebeb" stroke-width="0.7" opacity="1"/>
<line x1="562.74" y1="280.57" x2="562.74" y2="405.1" stroke="#ebebeb" stroke-width="0.7" opacity="1"/>
<line x1="494.5" y1="351.38" x2="661.68" y2="351.38" stroke="#ebebeb" stroke-width="0.7" opacity="1"/>
<line x1="593.66" y1="280.57" x2="593.66" y2="405.1" stroke="#ebebeb" stroke-width="0.7" opacity="1"/>
<line x1="494.5" y1="329.32" x2="661.68" y2="329.32" stroke="#ebebeb" stroke-width="0.7" opacity="1"/>
<line x1="624.58" y1="280.57" x2="624.58" y2="405.1" stroke="#ebebeb" stroke-width="0.7" opacity="1"/>
<line x1="494.5" y1="307.26" x2="661.68" y2="307.26" stroke="#ebebeb" stroke-width="0.7" opacity="1"/>
<line x1="655.5" y1="280.57" x2="655.5" y2="405.1" stroke="#ebebeb" stroke-width="0.7" opacity="0.5"/>
<line x1="494.5" y1="285.2" x2="661.68" y2="285.2" stroke="#ebebeb" stroke-width="0.7" opacity="1"/>
<path d="M500.9 285.2 L501.29 286.62 L501.68 288.05 L502.06 289.49 L502.45 290.93 L502.84 292.38 L503.23 293.84 L503.62 295.3 L504 296.77 L504.39 298.25 L504.78 299.74 L505.17 301.24 L505.56 302.74 L505.95 304.25 L506.33 305.77 L506.72 307.3 L507.11 308.83 L507.5 310.38 L507.89 311.93 L508.27 313.49 L508.66 315.05 L509.05 316.63 L509.44 318.21 L509.83 319.81 L510.21 321.41 L510.6 323.02 L510.99 324.64 L511.38 326.26 L511.77 327.9 L512.16 329.54 L512.54 331.2 L512.93 332.86 L513.32 334.53 L513.71 336.21 L514.1 337.9 L514.48 339.6 L514.87 341.31 L515.26 343.03 L515.65 344.76 L516.04 346.49 L516.42 348.24 L516.81 350 L517.2 351.76 L517.59 353.54 L517.98 355.33 L518.37 357.12 L518.75 358.93 L519.14 360.75 L519.53 362.58 L519.92 364.41 L520.31 366.26 L520.69 368.12 L521.08 369.99 L521.47 371.87 L521.86 373.76 L522.25 375.67 L522.63 377.58 L523.02 379.51 L523.41 381.44 L523.8 383.39 L524.19 385.35 L524.58 387.32 L524.96 389.3 L525.35 391.3 L525.74 393.3 L526.13 395.32 L526.52 397.35 L526.9 399.4 L527.29 401.45 L527.68 403.52 L527.98 405.1" fill="none" stroke="#8f8f8f" stroke-width="0.75" stroke-dasharray="1.6 1.7"/>
<path d="M501 285.2 L503.3 294.9 L505.8 305.6 L508.4 315.7 L510.9 324.5 L513.4 332.1 L514.9 337.2 L518 343.3 L521.1 351.5 L524.3 359.1 L526.8 363.7 L530.6 367.9 L534.4 372.1 L538.2 375.8 L540.7 374.2 L543.8 374.8 L546.4 377.4 L548.9 380.3 L553.3 382.1 L555.2 380.5 L559 382.1 L562.1 384.7 L565.3 384.9 L567.8 387.4 L570.3 386.4 L574.1 388.5 L577.3 388.1 L581 389.2 L582.7 389.5 L585.7 390.4 L587.6 389.2 L591.4 392 L596.4 392.1 L598.9 393 L604.6 393 L609.6 393.6 L613.4 395.5 L617.2 395.5 L624.1 397.4 L629.2 394.5 L639.3 394.5 L641.8 395.5 L653.8 395.5" fill="none" stroke="#d43c44" stroke-width="1.0" stroke-linejoin="round" stroke-linecap="round"/>
<line x1="494.5" y1="395.5" x2="494.5" y2="285.2" stroke="#505050" stroke-width="1"/>
<line x1="492.5" y1="395.5" x2="494.5" y2="395.5" stroke="#505050" stroke-width="0.6"/>
<text transform="translate(488.35 393.7) rotate(-90)" text-anchor="middle" font-size="8.2" fill="#141414">0.0</text>
<line x1="492.5" y1="373.44" x2="494.5" y2="373.44" stroke="#505050" stroke-width="0.6"/>
<text transform="translate(488.35 371.18) rotate(-90)" text-anchor="middle" font-size="8.2" fill="#141414">0.2</text>
<line x1="492.5" y1="351.38" x2="494.5" y2="351.38" stroke="#505050" stroke-width="0.6"/>
<text transform="translate(488.35 348.66) rotate(-90)" text-anchor="middle" font-size="8.2" fill="#141414">0.4</text>
<line x1="492.5" y1="329.32" x2="494.5" y2="329.32" stroke="#505050" stroke-width="0.6"/>
<text transform="translate(488.35 326.14) rotate(-90)" text-anchor="middle" font-size="8.2" fill="#141414">0.6</text>
<line x1="492.5" y1="307.26" x2="494.5" y2="307.26" stroke="#505050" stroke-width="0.6"/>
<text transform="translate(488.35 303.62) rotate(-90)" text-anchor="middle" font-size="8.2" fill="#141414">0.8</text>
<line x1="492.5" y1="285.2" x2="494.5" y2="285.2" stroke="#505050" stroke-width="0.6"/>
<text transform="translate(488.35 281.1) rotate(-90)" text-anchor="middle" font-size="8.2" fill="#141414">1.0</text>
<text transform="translate(477.9 324.8) rotate(-90)" text-anchor="middle" font-size="8.2" fill="#141414">Standardized Net Benefit</text>
<line x1="500.6" y1="405.1" x2="655.5" y2="405.1" stroke="#505050" stroke-width="1"/>
<line x1="500.9" y1="405.1" x2="500.9" y2="407.5" stroke="#505050" stroke-width="0.9"/>
<text x="503.3" y="415.85" text-anchor="middle" font-size="8.2" fill="#141414">0.0</text>
<line x1="531.82" y1="405.1" x2="531.82" y2="407.5" stroke="#505050" stroke-width="0.9"/>
<text x="534.22" y="415.85" text-anchor="middle" font-size="8.2" fill="#141414">0.2</text>
<line x1="562.74" y1="405.1" x2="562.74" y2="407.5" stroke="#505050" stroke-width="0.9"/>
<text x="565.14" y="415.85" text-anchor="middle" font-size="8.2" fill="#141414">0.4</text>
<line x1="593.66" y1="405.1" x2="593.66" y2="407.5" stroke="#505050" stroke-width="0.9"/>
<text x="596.06" y="415.85" text-anchor="middle" font-size="8.2" fill="#141414">0.6</text>
<line x1="624.58" y1="405.1" x2="624.58" y2="407.5" stroke="#505050" stroke-width="0.9"/>
<text x="626.98" y="415.85" text-anchor="middle" font-size="8.2" fill="#141414">0.8</text>
<line x1="655.5" y1="405.1" x2="655.5" y2="407.5" stroke="#505050" stroke-width="0.9"/>
<text x="657.9" y="415.85" text-anchor="middle" font-size="8.2" fill="#141414">1.0</text>
<text x="557" y="422.55" font-size="8.2" fill="#141414">High Risk Threshold</text>
<line x1="502.43" y1="428.5" x2="653.97" y2="428.5" stroke="#505050" stroke-width="1"/>
<line x1="502.43" y1="428.5" x2="502.43" y2="430.9" stroke="#505050" stroke-width="0.95"/>
<text x="506.93" y="438.85" text-anchor="middle" font-size="8.2" fill="#141414">1:100</text>
<line x1="531.82" y1="428.5" x2="531.82" y2="430.9" stroke="#505050" stroke-width="0.95"/>
<text x="534.12" y="438.85" text-anchor="middle" font-size="8.2" fill="#141414">1:4</text>
<line x1="562.74" y1="428.5" x2="562.74" y2="430.9" stroke="#505050" stroke-width="0.95"/>
<text x="565.04" y="438.85" text-anchor="middle" font-size="8.2" fill="#141414">2:3</text>
<line x1="593.66" y1="428.5" x2="593.66" y2="430.9" stroke="#505050" stroke-width="0.95"/>
<text x="595.96" y="438.85" text-anchor="middle" font-size="8.2" fill="#141414">3:2</text>
<line x1="624.58" y1="428.5" x2="624.58" y2="430.9" stroke="#505050" stroke-width="0.95"/>
<text x="626.88" y="438.85" text-anchor="middle" font-size="8.2" fill="#141414">4:1</text>
<line x1="653.97" y1="428.5" x2="653.97" y2="430.9" stroke="#505050" stroke-width="0.95"/>
<text x="658.47" y="438.85" text-anchor="middle" font-size="8.2" fill="#141414">100:1</text>
<text x="559.15" y="446.65" font-size="8.2" fill="#141414">Cost:Benefit Ratio</text>
<text x="575.7" y="279.8" text-anchor="middle" font-size="18.8" fill="#1a1a1a" stroke="none">f</text>
</g>
</g>
</svg>
</body></html>
